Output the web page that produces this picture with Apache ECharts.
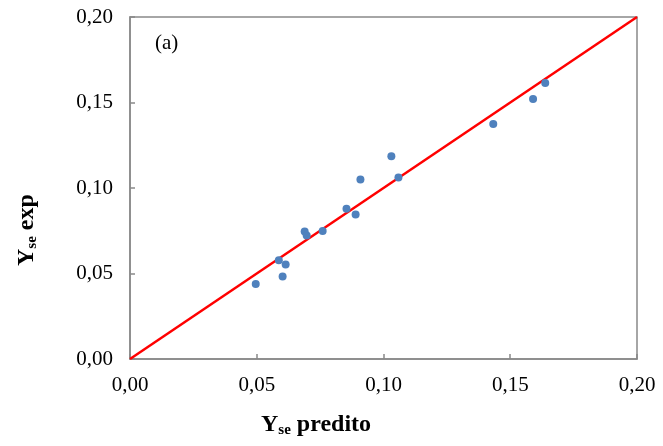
<!DOCTYPE html>
<html>
<head>
<meta charset="utf-8">
<script src="https://cdn.jsdelivr.net/npm/echarts@6/dist/echarts.min.js"></script>
<style>html,body{margin:0;padding:0;background:#fff}#c{width:663px;height:446px}</style>
</head>
<body>
<div id="c"></div>
<script>
// Data
var yPredito = [0.0496, 0.0587, 0.0602, 0.0614, 0.0689, 0.0697, 0.0760, 0.0854, 0.0890, 0.0909, 0.1031, 0.1059, 0.1433, 0.1590, 0.1638];
var yExp     = [0.0439, 0.0577, 0.0482, 0.0553, 0.0746, 0.0722, 0.0749, 0.0878, 0.0845, 0.1050, 0.1185, 0.1062, 0.1374, 0.1520, 0.1614];
var identityLine = [[0, 0], [0.20, 0.20]];
var axisMin = 0, axisMax = 0.20, axisStep = 0.05;
var panelLabel = '(a)';
var xName = ['Y', 'se', ' predito'];
var yName = ['Y', 'se', ' exp'];

var pts = yPredito.map(function (v, i) { return [v, yExp[i]]; });
var serif = '"Liberation Serif", "Times New Roman", serif';
var fmt = function (v) { return v.toFixed(2).replace('.', ','); };

var chart = echarts.init(document.getElementById('c'));
var axisCommon = {
  type: 'value', min: axisMin, max: axisMax, interval: axisStep,
  axisLine: { show: true, lineStyle: { color: '#898989', width: 1.5 } },
  axisTick: { show: true, inside: true, length: 5, lineStyle: { color: '#898989', width: 1.5 } },
  splitLine: { show: false },
  axisLabel: { color: '#000', fontFamily: serif, fontSize: 21, formatter: fmt }
};
var rich = {
  b: { fontFamily: serif, fontSize: 24, fontWeight: 'bold', color: '#000' },
  s: { fontFamily: serif, fontSize: 15, fontWeight: 'bold', color: '#000', padding: [11, 0, 0, 0] }
};
chart.setOption({
  animation: false,
  grid: { left: 130, right: 26, top: 17, bottom: 87, show: true, borderColor: '#898989', borderWidth: 1.5 },
  xAxis: Object.assign({}, axisCommon, { axisLabel: Object.assign({}, axisCommon.axisLabel, { margin: 16 }) }),
  yAxis: Object.assign({}, axisCommon, { axisLabel: Object.assign({}, axisCommon.axisLabel, { margin: 17 }) }),
  graphic: [
    { type: 'text', left: 155, top: 33, style: { text: panelLabel, font: '21px ' + serif, fill: '#000' } },
    { type: 'text', left: 261, top: 413, style: { rich: rich, text: '{b|' + xName[0] + '}{s|' + xName[1] + '}{b|' + xName[2] + '}' } },
    { type: 'text', x: 14, y: 266, rotation: Math.PI / 2, style: { rich: rich, text: '{b|' + yName[0] + '}{s|' + yName[1] + '}{b|' + yName[2] + '}' } }
  ],
  series: [
    { type: 'line', data: identityLine, showSymbol: false, lineStyle: { color: '#FF0000', width: 2.5 }, z: 2 },
    { type: 'scatter', data: pts, symbolSize: 8, itemStyle: { color: '#4F81BD', opacity: 1 }, z: 3 }
  ]
});
</script>
</body>
</html>
